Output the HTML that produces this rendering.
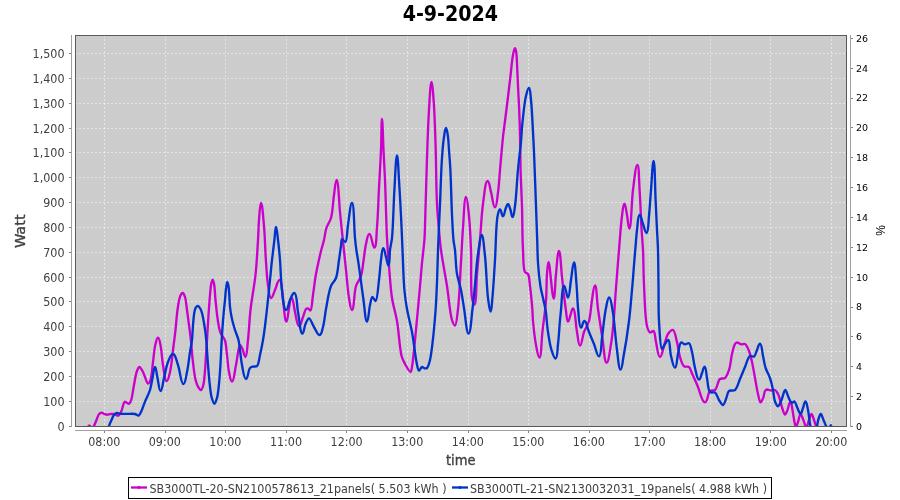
<!DOCTYPE html><html><head><meta charset="utf-8"><title>4-9-2024</title>
<style>html,body{margin:0;padding:0;background:#fff}svg{display:block;font-family:"DejaVu Sans Condensed","DejaVu Sans","Liberation Sans",sans-serif}</style></head><body>
<svg width="900" height="500" viewBox="0 0 900 500">
<rect width="900" height="500" fill="#fff"/>
<text x="450.4" y="21" text-anchor="middle" font-family="DejaVu Sans Condensed, DejaVu Sans, sans-serif" font-weight="bold" font-size="20.7" textLength="95.4" lengthAdjust="spacingAndGlyphs" fill="#000">4-9-2024</text>
<rect x="75" y="35" width="772" height="392" fill="#cccccc"/>
<path d="M104.5 35 V427 M165.5 35 V427 M225.5 35 V427 M286.5 35 V427 M346.5 35 V427 M407.5 35 V427 M468.5 35 V427 M528.5 35 V427 M589.5 35 V427 M649.5 35 V427 M710.5 35 V427 M770.5 35 V427 M831.5 35 V427 M75 426.5 H847 M75 401.5 H847 M75 376.5 H847 M75 351.5 H847 M75 326.5 H847 M75 301.5 H847 M75 277.5 H847 M75 252.5 H847 M75 227.5 H847 M75 202.5 H847 M75 177.5 H847 M75 152.5 H847 M75 128.5 H847 M75 103.5 H847 M75 78.5 H847 M75 53.5 H847" stroke="#fff" stroke-width="0.5" stroke-dasharray="2 2" fill="none" shape-rendering="auto"/>
<clipPath id="c"><rect x="75" y="35" width="772" height="392"/></clipPath>
<g clip-path="url(#c)" fill="none" stroke-width="2.35" stroke-linejoin="round" stroke-linecap="round">
<path d="M86.5 429.0C87.0 428.3 87.5 427.6 88.0 427.0C88.4 426.4 88.9 425.3 89.3 425.3C89.7 425.3 90.2 426.4 90.6 427.0C91.1 427.6 91.5 429.0 92.0 429.0C92.3 429.0 92.7 428.4 93.0 428.0C93.4 427.5 93.6 426.9 94.0 426.0C94.7 424.5 95.7 422.0 96.5 420.0C97.4 418.0 98.0 415.2 99.1 414.0C99.8 413.2 100.7 412.7 101.5 412.7C102.3 412.7 103.2 413.5 104.0 413.8C104.9 414.1 105.7 414.6 106.6 414.7C107.6 414.8 108.9 414.4 110.0 414.2C111.0 414.1 111.8 413.8 112.7 413.8C113.5 413.8 114.2 413.9 115.0 414.2C116.0 414.5 117.3 415.9 118.2 415.7C119.2 415.5 120.2 413.7 120.9 412.3C121.8 410.7 122.2 408.3 122.8 406.5C123.4 404.8 123.7 402.2 124.6 401.8C125.2 401.6 125.9 402.3 126.6 402.6C127.3 402.9 128.1 403.9 128.7 403.8C129.3 403.7 129.9 402.7 130.4 402.0C130.9 401.2 131.1 400.4 131.5 399.0C132.3 396.1 133.1 389.7 134.0 385.0C134.9 380.3 135.7 374.2 137.0 371.0C137.7 369.2 138.5 367.0 139.4 367.0C140.4 367.0 141.8 369.9 143.0 372.0C144.7 375.0 146.5 383.4 148.0 383.6C148.9 383.7 149.8 381.8 150.5 380.0C151.9 376.4 152.2 368.0 153.0 362.0C153.8 356.0 154.3 348.4 155.5 344.0C156.2 341.3 156.8 337.6 158.0 337.6C159.3 337.6 159.8 341.9 160.5 345.0C161.6 350.0 161.9 358.7 163.0 365.0C164.0 370.7 164.6 380.9 166.6 381.0C168.2 381.1 169.1 375.7 170.0 372.0C171.4 366.3 172.1 357.2 173.0 350.0C173.9 343.2 174.7 336.7 175.5 330.0C176.2 323.3 176.7 315.7 177.5 310.0C178.1 305.6 178.7 301.4 179.5 298.5C180.0 296.6 180.5 294.9 181.3 294.0C181.8 293.4 182.5 292.8 183.0 293.0C183.8 293.2 184.4 295.2 185.0 297.0C186.0 300.0 186.4 305.5 187.0 310.0C187.7 314.8 188.3 319.9 189.0 325.0C189.7 330.2 190.4 335.6 191.0 341.0C191.6 346.6 191.8 352.0 192.5 358.0C193.3 364.9 194.2 374.7 195.6 380.0C196.4 383.2 197.3 385.8 198.5 387.5C199.3 388.7 200.4 390.1 201.1 390.0C202.0 389.8 202.7 387.1 203.3 385.0C204.2 381.9 204.4 377.6 204.8 373.0C205.4 367.0 205.8 358.0 206.2 352.0C206.5 347.4 206.7 344.7 207.0 340.0C207.4 333.2 208.0 322.9 208.5 315.0C209.0 308.0 209.5 300.7 210.0 295.0C210.4 290.8 210.6 286.8 211.2 284.0C211.6 282.2 212.1 279.6 212.6 279.6C213.1 279.6 213.6 281.7 214.0 283.5C214.8 287.1 214.9 294.4 215.5 300.0C216.1 305.9 216.7 312.7 217.5 318.0C218.1 322.3 218.8 326.6 219.5 329.5C220.0 331.4 220.4 332.7 221.0 334.0C221.6 335.1 222.4 335.9 223.0 337.0C223.7 338.1 224.5 338.9 225.0 340.5C226.0 343.3 226.2 348.3 226.8 353.0C227.6 358.9 228.0 367.8 229.2 373.0C230.0 376.5 230.6 381.7 232.0 381.6C234.0 381.5 234.7 370.8 236.0 365.0C237.4 358.7 238.4 345.3 240.0 345.0C240.8 344.9 241.7 347.4 242.5 349.0C243.6 351.2 244.2 357.1 245.4 357.0C247.1 356.8 247.2 346.5 248.0 340.0C249.0 331.2 249.4 319.6 250.6 309.0C251.9 297.7 254.4 285.6 255.6 274.0C256.8 262.6 257.4 249.8 258.0 240.0C258.5 232.5 258.5 226.4 259.0 220.0C259.5 214.1 259.9 203.0 261.0 203.0C262.3 203.0 263.2 217.5 264.0 226.0C265.0 236.6 265.2 251.3 266.0 262.0C266.6 270.5 267.0 278.5 268.0 285.0C268.8 290.0 269.0 297.8 271.0 298.0C272.7 298.2 273.6 292.8 275.0 290.0C276.5 286.9 277.7 279.8 279.6 280.0C282.1 280.3 281.9 293.2 283.0 300.0C284.2 307.1 284.7 321.6 286.4 321.6C287.7 321.6 288.1 312.2 289.0 308.0C289.8 304.3 290.2 297.6 291.6 297.6C293.2 297.6 293.8 307.2 295.0 312.0C296.2 316.7 296.8 325.8 299.0 326.0C300.8 326.1 301.8 319.9 303.0 317.0C304.1 314.3 304.8 310.1 306.0 309.0C306.6 308.5 307.3 308.3 308.0 308.5C308.8 308.7 309.7 310.7 310.4 310.5C311.9 309.9 312.1 300.6 313.0 295.0C314.0 288.5 314.7 281.1 316.0 274.0C317.4 266.5 319.5 257.3 321.0 251.0C322.1 246.6 323.1 243.8 324.0 240.0C324.9 236.1 325.2 231.8 326.4 228.0C327.6 224.4 329.8 222.1 331.0 218.0C332.7 212.0 333.0 201.8 334.0 195.0C334.8 189.5 335.4 180.0 336.6 180.0C338.4 180.1 339.1 203.2 340.0 212.0C340.6 218.2 340.9 221.4 341.6 228.0C342.7 238.7 344.7 257.4 346.0 270.0C347.1 280.3 347.7 290.7 349.0 298.0C349.9 302.9 350.5 310.1 352.0 310.0C354.1 309.9 354.0 292.2 356.0 286.0C357.4 281.8 359.8 279.8 361.0 276.0C362.5 271.4 362.8 265.3 363.6 260.0C364.4 254.7 364.9 248.7 366.0 244.0C366.9 240.2 367.5 234.0 369.4 234.0C371.6 234.0 372.5 247.8 374.4 247.6C376.6 247.3 376.3 235.0 377.0 227.0C378.0 216.1 378.3 200.9 379.0 188.0C379.7 175.3 380.5 162.0 381.0 150.0C381.5 139.1 381.4 119.0 382.0 119.0C382.6 119.0 383.0 139.8 383.5 150.0C384.0 160.1 384.5 168.4 385.0 180.0C385.7 196.2 386.2 222.2 387.0 238.0C387.6 249.0 388.2 256.4 389.0 266.0C389.9 276.3 390.5 288.3 392.0 298.0C393.3 306.3 395.5 312.5 397.0 321.0C398.8 331.4 399.6 348.5 401.6 356.0C402.6 359.7 403.6 361.4 405.0 364.0C406.5 366.7 409.4 372.2 410.6 372.0C411.4 371.9 411.5 369.5 412.0 367.0C413.4 359.4 415.5 334.6 416.8 321.0C417.9 310.2 418.6 301.7 419.5 292.0C420.4 282.3 421.1 272.1 422.0 263.0C422.8 254.9 423.9 246.7 424.4 240.0C424.8 234.8 424.8 232.4 425.0 226.0C425.5 211.9 426.3 178.7 427.0 158.0C427.6 140.6 428.1 123.8 429.0 110.0C429.7 99.4 430.3 82.0 431.6 82.0C432.6 82.0 433.0 92.6 433.6 100.0C434.5 111.8 435.1 129.8 435.6 146.0C436.2 164.2 436.2 188.5 437.0 204.0C437.5 214.4 438.3 221.9 439.0 230.0C439.6 237.1 440.0 242.4 441.0 250.0C442.4 260.3 445.1 274.2 447.0 286.0C448.8 297.5 449.9 313.6 452.0 320.0C452.9 322.8 454.1 325.7 455.0 325.6C456.4 325.4 457.2 316.0 458.0 309.0C459.4 297.4 460.1 276.4 461.0 262.0C461.8 249.8 462.1 239.1 463.0 228.0C463.8 217.4 464.3 197.1 466.0 197.0C467.4 197.0 468.2 208.7 469.0 216.0C470.0 225.7 470.5 237.7 471.0 250.0C471.6 264.6 470.4 289.5 472.0 298.0C472.6 301.2 473.4 304.6 474.4 304.5C476.5 304.2 476.1 284.4 477.0 274.0C478.0 263.0 479.0 251.5 480.0 240.0C481.0 228.2 481.5 214.6 483.0 204.0C484.2 195.4 485.2 181.1 487.6 181.0C489.3 180.9 489.9 188.0 491.0 192.0C492.3 196.7 493.2 207.3 495.0 207.3C496.7 207.3 497.2 198.0 498.0 192.5C499.0 185.8 499.3 178.2 500.0 170.0C500.9 160.0 502.0 146.6 503.0 137.0C503.8 129.5 504.7 123.7 505.5 117.0C506.3 110.3 507.2 103.7 508.0 97.0C508.8 90.1 509.7 82.7 510.5 76.0C511.2 69.8 511.8 62.7 512.5 58.0C513.0 54.9 513.4 52.0 514.0 50.3C514.3 49.3 514.8 48.2 515.1 48.2C515.5 48.2 515.9 50.3 516.2 52.0C516.8 55.5 516.9 62.4 517.2 68.0C517.5 74.3 517.8 81.2 518.1 88.0C518.4 95.2 518.9 102.4 519.2 110.0C519.5 118.1 519.8 126.0 520.0 135.0C520.3 145.7 520.3 158.2 520.6 170.0C520.9 182.2 521.6 194.2 522.0 207.0C522.4 220.8 522.3 238.1 523.0 250.0C523.5 258.6 523.0 268.7 525.0 272.0C525.8 273.3 527.2 272.8 528.0 274.0C529.4 276.2 529.4 281.3 530.0 286.0C530.9 292.6 531.9 303.5 532.4 310.0C532.7 314.4 532.6 316.6 533.0 321.0C533.6 327.5 534.7 338.3 536.0 345.0C537.0 349.9 538.0 357.7 539.4 357.6C541.4 357.5 541.4 340.9 542.4 332.0C543.5 322.2 545.2 311.0 546.0 301.0C546.7 291.7 546.4 281.2 547.0 274.0C547.4 269.2 547.7 262.0 548.6 262.0C549.7 262.0 550.2 274.0 551.0 280.0C551.8 286.1 552.4 298.5 553.6 298.5C555.0 298.5 555.1 282.0 556.0 274.0C556.9 266.2 557.5 251.0 559.0 251.0C560.5 251.0 561.1 269.1 562.0 277.0C562.7 283.5 563.3 289.2 564.0 295.0C564.6 300.5 565.3 306.2 566.0 311.0C566.6 314.9 566.7 321.5 568.0 321.6C569.1 321.7 569.7 317.2 570.5 315.0C571.3 312.8 571.8 308.4 573.0 308.5C575.2 308.7 575.7 325.2 577.0 332.0C578.0 337.2 578.3 345.5 580.0 345.6C581.8 345.7 582.4 336.2 584.0 332.0C585.5 328.1 587.7 325.4 589.0 321.0C590.7 315.2 590.9 306.4 592.0 300.0C592.9 294.6 593.6 285.2 595.0 285.3C596.7 285.4 596.8 300.7 598.0 309.0C599.3 318.2 600.9 328.7 602.4 338.0C603.8 346.5 604.3 362.5 606.6 362.6C608.6 362.7 609.9 350.6 611.0 344.0C612.3 336.8 612.8 329.4 613.6 321.0C614.5 311.0 615.1 299.4 616.0 288.0C616.9 275.8 618.0 262.3 619.0 250.0C620.0 238.3 620.8 224.5 622.0 216.0C622.7 210.8 623.1 203.6 624.4 203.6C625.6 203.6 626.2 211.0 627.0 215.0C627.9 219.3 628.2 228.6 629.4 228.6C631.3 228.5 631.5 201.4 633.0 190.0C634.2 180.7 635.7 164.9 637.4 165.0C639.0 165.1 639.0 180.7 639.6 190.0C640.4 201.8 640.9 219.0 641.6 230.0C642.1 237.8 642.6 242.4 643.0 250.0C643.5 260.0 643.4 272.9 644.0 285.0C644.7 298.1 645.0 318.4 647.0 326.0C647.8 329.2 648.6 331.9 650.0 332.4C651.0 332.8 652.7 330.5 653.6 331.0C655.2 331.9 655.0 338.1 656.0 342.0C657.1 346.6 657.8 356.9 660.0 357.0C661.9 357.1 662.7 349.8 664.0 346.0C665.4 342.1 666.1 336.8 668.0 334.0C669.4 332.0 671.6 329.6 673.0 330.0C674.9 330.6 675.9 337.7 677.0 342.0C678.2 346.7 678.6 352.7 680.0 357.0C681.1 360.5 682.1 364.8 684.0 366.3C685.4 367.3 687.7 366.0 689.0 367.0C690.5 368.1 691.0 371.3 692.0 373.5C693.0 375.7 694.0 377.8 695.0 380.0C696.0 382.3 696.8 384.2 698.0 387.0C699.8 391.1 701.8 402.4 705.0 402.4C707.7 402.4 707.8 392.8 710.0 391.0C711.4 389.8 713.6 391.1 715.0 390.0C717.2 388.2 717.8 380.8 720.0 379.0C721.4 377.9 723.6 379.1 725.0 378.0C726.8 376.6 727.9 373.2 729.0 370.0C730.5 365.7 730.9 358.7 732.0 354.0C732.9 350.2 733.8 345.8 735.0 344.0C735.6 343.1 736.2 342.5 737.0 342.4C738.1 342.3 739.6 344.1 741.0 344.4C742.3 344.6 743.8 343.4 745.0 344.0C746.7 344.9 747.9 348.3 749.0 351.0C750.3 354.2 751.1 358.0 752.0 362.0C753.1 366.8 754.0 372.7 755.0 378.0C756.0 383.3 756.9 389.5 758.0 394.0C758.8 397.3 759.6 402.3 760.6 402.4C761.5 402.5 762.8 398.9 763.5 397.0C764.2 395.1 764.2 392.3 765.0 391.0C765.5 390.2 766.2 389.7 767.0 389.5C768.1 389.3 769.7 390.4 771.0 390.5C772.3 390.6 773.9 389.5 775.0 390.0C776.3 390.5 777.1 392.4 778.0 394.0C779.1 396.0 779.7 399.0 780.5 401.5C781.2 404.0 781.7 406.7 782.5 409.0C783.2 411.0 784.1 414.5 785.0 414.5C785.8 414.5 786.7 411.7 787.5 410.0C788.5 407.7 789.2 401.9 790.5 402.0C791.7 402.1 791.9 407.1 792.5 410.0C793.2 413.6 793.8 418.9 794.5 422.0C795.0 424.0 795.4 427.0 796.0 427.0C796.6 427.0 797.3 423.9 798.0 422.0C798.8 419.7 799.6 414.1 800.5 414.0C801.3 413.9 802.2 417.2 803.0 419.0C803.9 421.0 804.6 424.1 805.3 425.5C805.7 426.2 806.0 427.0 806.3 427.0C806.7 427.0 807.1 425.8 807.5 425.0C808.1 423.7 808.4 421.7 809.0 420.0C809.7 418.1 810.7 414.0 811.5 414.0C812.3 414.0 813.2 418.0 814.0 420.0C814.7 422.0 815.4 424.3 816.0 426.0C816.4 427.2 816.7 428.0 817.0 429.0" stroke="#cc00cc"/>
<path d="M108.0 429.0C108.3 428.0 108.6 427.2 109.0 426.0C109.6 424.3 110.6 421.9 111.5 420.0C112.3 418.2 113.0 415.9 114.1 414.7C114.9 413.8 115.8 413.2 116.8 413.0C117.8 412.8 118.8 413.7 120.0 413.8C121.5 414.0 123.3 413.8 125.0 413.8C126.7 413.8 128.3 413.8 130.0 413.8C131.7 413.8 133.5 413.7 135.0 414.0C136.3 414.3 137.6 415.8 138.6 415.5C139.6 415.2 140.2 413.5 141.0 412.0C142.3 409.5 143.6 405.1 145.0 401.6C146.5 397.8 148.7 394.0 150.0 390.0C151.2 386.1 151.6 381.9 152.5 378.0C153.3 374.2 153.8 367.0 155.0 367.0C156.2 367.0 156.6 374.2 157.5 378.0C158.5 382.2 159.0 391.0 160.6 391.0C162.2 391.0 162.8 382.6 164.0 378.0C165.3 372.9 166.2 366.3 168.0 362.0C169.4 358.7 170.6 353.8 173.0 354.0C175.7 354.2 176.4 360.8 178.0 365.0C180.0 370.4 180.9 384.0 183.4 384.0C185.4 384.0 186.0 376.5 187.0 372.0C188.3 366.2 189.1 357.8 190.0 352.0C190.7 347.5 191.5 344.2 192.0 340.0C192.5 335.3 192.6 329.9 193.0 325.0C193.4 320.4 193.8 314.7 194.5 311.5C194.9 309.7 195.3 308.2 196.0 307.3C196.5 306.6 197.3 305.9 198.0 306.0C198.8 306.1 199.8 307.7 200.5 309.0C201.4 310.6 201.9 312.8 202.5 315.0C203.1 317.5 203.5 320.2 204.0 323.0C204.5 326.1 205.1 329.7 205.5 333.0C205.9 336.3 206.2 339.1 206.5 343.0C206.9 348.3 207.3 355.4 207.8 362.0C208.4 369.3 209.0 378.4 209.8 385.0C210.4 390.0 210.8 394.6 211.8 398.0C212.5 400.4 213.5 403.8 214.4 403.8C215.3 403.8 216.3 400.3 217.0 398.0C217.9 394.8 218.3 390.5 218.8 386.0C219.4 380.4 219.9 373.8 220.3 367.0C220.8 359.2 221.1 350.5 221.6 342.0C222.1 333.2 222.8 322.7 223.5 315.0C224.0 309.3 224.5 304.7 225.0 300.0C225.4 295.8 225.6 291.3 226.1 288.0C226.4 285.6 226.8 282.0 227.2 282.0C227.5 282.0 228.0 283.8 228.3 285.0C228.7 286.8 228.9 289.2 229.1 292.0C229.5 296.1 229.5 302.3 230.0 307.0C230.5 311.2 231.1 315.1 232.0 319.0C232.8 322.8 233.9 326.4 235.0 330.0C236.1 333.4 237.5 335.9 238.5 340.0C240.1 346.4 240.5 357.9 242.0 365.0C243.1 370.4 243.9 378.9 246.0 379.0C247.9 379.1 248.3 369.8 250.0 368.0C250.9 367.0 251.9 366.9 253.0 366.6C254.2 366.2 255.9 366.9 257.0 366.0C258.8 364.4 259.1 359.0 260.0 355.0C261.1 350.4 262.1 345.3 263.0 340.0C264.0 334.1 264.7 328.8 265.6 321.0C267.1 308.8 269.5 285.1 270.6 274.0C271.2 268.0 271.4 265.1 272.0 260.0C272.7 253.9 273.7 246.0 274.4 240.0C275.0 235.2 275.1 227.0 276.0 227.0C276.9 227.0 277.4 235.2 278.0 240.0C278.8 245.9 279.4 252.7 280.0 260.0C280.7 269.0 280.8 281.0 282.0 290.0C283.0 297.4 283.6 309.8 286.0 310.0C287.8 310.2 288.5 303.0 290.0 300.0C291.3 297.4 292.6 292.7 294.4 293.0C297.1 293.5 296.7 305.5 298.0 312.0C299.4 319.0 300.1 333.5 302.4 333.6C303.9 333.7 304.2 326.7 305.5 324.0C306.5 321.8 307.7 318.4 309.0 318.4C310.5 318.4 312.2 324.2 314.0 327.0C315.8 329.8 317.3 335.2 319.6 335.0C321.8 334.8 322.0 330.3 323.0 327.0C324.4 322.3 324.8 315.4 326.0 309.0C327.4 301.8 328.7 291.6 331.0 286.0C332.4 282.5 334.7 281.4 336.0 278.0C337.8 273.3 338.1 265.6 339.0 260.0C339.8 255.0 340.4 249.9 341.0 246.0C341.4 243.3 341.1 239.3 342.0 239.0C342.7 238.7 344.5 242.3 345.4 242.0C347.2 241.4 347.0 231.0 348.0 225.0C349.1 218.1 350.4 202.9 352.0 203.0C354.1 203.1 354.1 229.2 355.0 238.0C355.5 243.4 355.9 247.1 356.5 251.0C357.0 254.3 357.5 256.7 358.0 260.0C358.6 264.1 359.3 268.6 360.0 274.0C361.0 281.3 362.3 291.7 363.5 300.0C364.6 307.5 365.3 321.6 367.0 321.6C368.5 321.6 368.9 309.5 370.0 305.0C370.8 301.8 371.3 297.2 372.4 297.0C373.3 296.8 374.7 301.2 375.6 301.0C377.4 300.5 378.1 286.9 379.0 280.0C379.9 273.3 380.2 265.8 381.0 260.0C381.7 255.5 381.9 248.3 383.3 248.2C384.5 248.1 385.1 254.1 386.0 257.0C386.9 259.9 387.6 265.7 388.6 265.6C389.9 265.5 389.4 254.8 390.0 250.0C390.5 245.7 391.4 243.4 392.0 238.0C393.1 227.4 393.5 204.7 394.4 190.0C395.2 177.5 395.8 155.5 397.0 155.5C398.0 155.5 398.4 171.0 399.0 180.0C399.7 190.8 400.4 204.2 401.0 216.0C401.6 227.5 402.0 238.2 402.5 250.0C403.1 262.8 403.4 279.1 404.4 290.0C405.1 297.5 405.8 302.4 407.0 309.0C408.3 316.3 410.7 325.0 412.0 332.0C413.1 337.8 413.6 342.8 414.4 348.0C415.1 352.8 415.6 357.9 416.5 362.0C417.2 365.2 417.8 370.4 419.0 370.6C419.8 370.8 421.0 367.2 422.0 367.0C422.8 366.8 423.6 368.1 424.5 368.3C425.3 368.4 426.3 368.6 427.0 368.0C428.3 366.9 429.2 363.2 430.0 360.0C431.1 355.6 431.6 350.3 432.4 344.0C433.5 334.8 434.8 320.8 435.6 310.0C436.3 300.2 436.6 291.6 437.0 282.0C437.4 271.7 437.6 261.6 438.0 250.0C438.5 236.1 439.3 219.3 440.0 204.0C440.7 188.7 441.1 170.4 442.0 158.0C442.6 149.6 443.1 142.5 444.0 137.0C444.6 133.4 445.0 128.0 446.0 128.0C447.0 128.0 447.5 133.7 448.0 137.0C448.6 140.9 448.6 145.2 449.0 150.0C449.4 156.0 450.0 162.0 450.4 170.0C451.0 182.0 451.4 202.2 452.0 215.0C452.5 224.6 452.8 233.6 453.5 240.0C453.9 244.1 454.5 245.9 455.0 250.0C455.7 256.3 455.8 266.9 457.0 274.0C458.0 279.9 459.9 284.5 461.0 290.0C462.2 295.8 462.9 301.5 464.0 308.0C465.3 315.8 466.5 333.6 468.6 333.6C470.7 333.6 471.4 317.2 472.5 309.0C473.6 301.0 474.2 292.9 475.0 285.0C475.7 277.3 476.2 268.8 477.0 262.0C477.6 256.5 478.2 251.7 479.0 247.0C479.7 242.8 480.3 235.0 481.6 235.0C483.3 235.0 484.0 247.8 485.0 256.0C486.3 267.6 486.7 287.9 488.0 298.0C488.8 303.8 489.5 311.6 490.6 311.6C491.7 311.6 491.8 303.7 492.4 298.0C493.3 288.5 494.2 273.1 495.0 260.0C495.9 245.9 495.9 224.1 497.6 216.0C498.3 212.8 498.7 209.5 500.0 209.5C501.4 209.5 501.6 216.3 503.0 216.2C504.4 216.1 504.6 211.2 505.5 209.0C506.3 207.2 507.2 204.0 508.0 204.0C508.9 204.0 509.8 207.9 510.5 210.0C511.3 212.2 511.6 217.0 512.6 217.0C513.9 217.0 514.3 210.8 515.0 206.0C516.3 197.4 516.9 180.8 518.0 169.5C518.9 159.7 520.2 150.3 521.0 142.0C521.6 135.1 521.7 129.9 522.4 123.0C523.3 114.8 524.4 102.3 526.0 96.0C526.9 92.5 527.8 87.9 529.0 88.0C530.4 88.1 530.4 95.0 531.0 100.0C531.9 108.1 532.5 122.6 533.0 132.0C533.4 139.4 533.6 143.7 534.0 152.0C534.6 165.6 535.4 190.1 536.0 206.0C536.5 218.6 536.8 229.8 537.2 240.0C537.5 248.4 537.5 255.3 538.0 263.0C538.5 270.7 539.4 279.6 540.4 286.0C541.1 290.7 542.1 294.0 543.0 298.0C543.9 302.0 544.8 305.4 545.6 310.0C546.6 316.2 546.9 325.1 548.0 332.0C549.0 338.3 549.9 345.2 551.5 350.0C552.6 353.4 554.0 358.7 555.6 358.5C557.6 358.2 557.3 349.5 558.0 344.0C558.9 337.0 559.4 326.3 560.0 320.0C560.4 315.9 560.6 314.0 561.0 310.0C561.6 304.1 561.9 291.5 563.0 288.0C563.4 286.8 563.8 285.8 564.2 285.8C564.8 285.8 565.4 289.2 566.0 291.0C566.7 293.1 567.0 297.7 568.0 297.6C569.6 297.5 570.0 285.9 571.0 280.0C572.0 274.1 572.7 262.4 574.0 262.4C575.4 262.4 575.7 275.7 576.4 283.0C577.2 291.4 577.3 302.0 578.2 310.0C578.9 316.5 578.9 327.3 581.0 327.6C582.4 327.8 582.6 320.9 584.4 321.0C586.6 321.1 587.4 328.3 589.0 332.0C590.6 335.9 592.3 340.0 594.0 344.0C595.7 348.1 597.1 356.6 599.0 356.4C601.3 356.1 601.2 344.0 602.0 338.0C602.8 332.2 603.3 326.3 604.0 321.0C604.6 316.4 605.1 312.1 606.0 308.0C606.8 304.3 607.6 297.5 609.2 297.5C611.1 297.6 612.2 308.7 613.0 313.0C613.6 316.1 613.6 317.5 614.0 321.0C614.8 327.7 615.8 341.3 617.0 350.0C618.0 357.2 618.8 369.6 620.6 369.6C622.1 369.6 622.6 361.6 623.6 356.0C625.3 347.1 627.6 332.3 629.0 321.0C630.3 310.4 631.1 299.8 632.0 290.0C632.8 281.2 633.4 272.7 634.0 265.0C634.5 258.5 635.0 252.9 635.5 247.0C636.0 241.3 636.3 235.5 637.0 230.0C637.7 224.8 637.8 215.2 639.6 215.0C641.0 214.9 641.8 221.0 643.0 224.0C644.2 227.0 645.2 233.2 646.6 233.0C648.5 232.8 648.3 222.3 649.0 216.0C649.8 208.3 650.3 198.9 651.0 190.0C651.8 180.6 652.5 161.0 653.6 161.0C654.9 161.0 655.0 187.9 655.6 200.0C656.1 210.7 656.6 221.0 657.0 230.0C657.4 237.3 657.8 242.4 658.0 250.0C658.3 260.0 658.3 273.3 658.5 285.0C658.7 296.9 658.3 309.8 659.0 321.0C659.6 330.9 660.2 348.6 662.0 349.0C662.8 349.2 663.9 345.5 665.0 344.0C666.0 342.5 667.5 339.7 668.4 340.0C670.0 340.4 669.8 351.1 671.0 356.0C672.1 360.2 673.3 367.7 675.0 367.6C676.8 367.5 677.0 358.3 678.0 354.0C679.0 350.0 679.3 343.3 681.0 342.5C682.1 342.0 683.6 344.3 685.0 344.4C686.3 344.5 687.9 342.7 689.0 343.3C690.6 344.1 691.1 348.6 692.0 352.0C693.2 356.5 693.7 363.1 695.0 368.0C696.1 372.2 697.0 379.5 699.0 379.6C700.5 379.7 701.1 375.2 702.0 373.0C702.9 370.9 703.5 366.5 704.6 366.6C706.1 366.7 706.2 374.0 707.0 378.0C707.9 382.4 707.9 390.1 710.0 392.0C711.3 393.2 713.6 391.7 715.0 392.6C716.8 393.8 717.6 397.8 719.0 400.0C720.3 401.9 721.8 405.1 723.0 405.0C724.2 404.9 725.1 401.2 726.0 399.0C727.1 396.6 727.3 392.4 729.0 391.0C730.5 389.8 733.3 391.3 735.0 390.0C737.3 388.2 738.4 382.8 740.0 379.0C741.7 375.1 743.3 370.9 745.0 367.0C746.6 363.2 747.9 357.1 750.0 356.0C751.2 355.3 752.9 357.2 754.0 356.6C755.4 355.8 756.0 352.2 757.0 350.0C758.0 347.8 758.7 343.5 760.0 343.6C761.8 343.8 762.1 351.9 763.0 356.0C763.9 360.0 764.4 364.2 765.6 368.0C766.8 371.5 768.8 374.5 770.0 378.0C771.3 381.8 772.2 386.0 773.0 390.0C773.8 393.9 773.9 398.6 775.0 401.5C775.8 403.5 777.0 406.3 778.0 406.3C779.1 406.3 780.4 402.4 781.5 400.0C782.8 397.1 784.0 390.0 785.2 390.0C786.2 390.0 787.1 394.0 788.0 396.0C788.9 397.9 789.6 400.4 790.5 401.5C791.0 402.2 791.4 402.7 792.0 402.8C792.7 402.9 793.8 401.2 794.5 401.5C795.6 401.9 796.1 405.1 797.0 407.0C798.1 409.2 799.5 414.0 800.5 414.0C801.4 414.0 802.2 410.0 803.0 408.0C803.8 405.9 804.3 401.5 805.5 401.5C806.8 401.6 807.3 406.8 808.0 410.0C808.9 414.1 809.4 420.8 810.0 424.0C810.3 425.7 810.4 427.0 811.0 428.0C811.5 428.9 812.3 429.7 813.0 430.0C813.6 430.3 814.4 430.3 815.0 430.0C815.7 429.6 816.2 428.3 816.7 427.0C817.5 425.0 817.7 421.3 818.5 419.0C819.1 417.1 820.0 414.0 820.8 414.0C821.7 414.0 822.6 418.0 823.5 420.0C824.4 422.0 825.3 424.5 826.0 426.0C826.4 426.9 826.4 427.7 827.0 428.0C827.6 428.4 828.9 428.4 829.5 428.0C830.2 427.6 830.4 425.2 830.8 425.2C831.2 425.2 831.6 427.1 832.0 428.0" stroke="#0033cc"/>
</g>
<rect x="75.5" y="35.5" width="771" height="391" fill="none" stroke="#595959" stroke-width="1"/>
<path d="M71.5 35V427 M75 430.5H847 M850.5 35V427" stroke="#a0a0a0" stroke-width="1" fill="none"/>
<path d="M69 426.5H71 M69 401.5H71 M69 376.5H71 M69 351.5H71 M69 326.5H71 M69 301.5H71 M69 277.5H71 M69 252.5H71 M69 227.5H71 M69 202.5H71 M69 177.5H71 M69 152.5H71 M69 128.5H71 M69 103.5H71 M69 78.5H71 M69 53.5H71 M104.5 431V433 M165.5 431V433 M225.5 431V433 M286.5 431V433 M346.5 431V433 M407.5 431V433 M468.5 431V433 M528.5 431V433 M589.5 431V433 M649.5 431V433 M710.5 431V433 M770.5 431V433 M831.5 431V433" stroke="#808080" stroke-width="1" fill="none"/>
<path d="M851 426.5H853 M851 396.5H853 M851 366.5H853 M851 336.5H853 M851 307.5H853 M851 277.5H853 M851 247.5H853 M851 217.5H853 M851 187.5H853 M851 157.5H853 M851 127.5H853 M851 98.5H853 M851 68.5H853 M851 38.5H853" stroke="#808080" stroke-width="1" fill="none"/>
<g font-size="12.4" fill="#404040" text-anchor="end">
<text x="64.5" y="430.8" textLength="7.1" lengthAdjust="spacingAndGlyphs">0</text>
<text x="64.5" y="405.8" textLength="21.3" lengthAdjust="spacingAndGlyphs">100</text>
<text x="64.5" y="380.8" textLength="21.3" lengthAdjust="spacingAndGlyphs">200</text>
<text x="64.5" y="355.8" textLength="21.3" lengthAdjust="spacingAndGlyphs">300</text>
<text x="64.5" y="330.8" textLength="21.3" lengthAdjust="spacingAndGlyphs">400</text>
<text x="64.5" y="305.8" textLength="21.3" lengthAdjust="spacingAndGlyphs">500</text>
<text x="64.5" y="281.8" textLength="21.3" lengthAdjust="spacingAndGlyphs">600</text>
<text x="64.5" y="256.8" textLength="21.3" lengthAdjust="spacingAndGlyphs">700</text>
<text x="64.5" y="231.8" textLength="21.3" lengthAdjust="spacingAndGlyphs">800</text>
<text x="64.5" y="206.8" textLength="21.3" lengthAdjust="spacingAndGlyphs">900</text>
<text x="64.5" y="181.8" textLength="31.9" lengthAdjust="spacingAndGlyphs">1,000</text>
<text x="64.5" y="156.8" textLength="31.9" lengthAdjust="spacingAndGlyphs">1,100</text>
<text x="64.5" y="132.8" textLength="31.9" lengthAdjust="spacingAndGlyphs">1,200</text>
<text x="64.5" y="107.8" textLength="31.9" lengthAdjust="spacingAndGlyphs">1,300</text>
<text x="64.5" y="82.8" textLength="31.9" lengthAdjust="spacingAndGlyphs">1,400</text>
<text x="64.5" y="57.8" textLength="31.9" lengthAdjust="spacingAndGlyphs">1,500</text>
</g>
<g font-size="12.4" fill="#404040" text-anchor="middle">
<text x="104.3" y="446.3" textLength="32.1" lengthAdjust="spacingAndGlyphs">08:00</text>
<text x="164.8" y="446.3" textLength="32.1" lengthAdjust="spacingAndGlyphs">09:00</text>
<text x="225.4" y="446.3" textLength="32.1" lengthAdjust="spacingAndGlyphs">10:00</text>
<text x="286.0" y="446.3" textLength="32.1" lengthAdjust="spacingAndGlyphs">11:00</text>
<text x="346.6" y="446.3" textLength="32.1" lengthAdjust="spacingAndGlyphs">12:00</text>
<text x="407.2" y="446.3" textLength="32.1" lengthAdjust="spacingAndGlyphs">13:00</text>
<text x="467.8" y="446.3" textLength="32.1" lengthAdjust="spacingAndGlyphs">14:00</text>
<text x="528.3" y="446.3" textLength="32.1" lengthAdjust="spacingAndGlyphs">15:00</text>
<text x="588.9" y="446.3" textLength="32.1" lengthAdjust="spacingAndGlyphs">16:00</text>
<text x="649.5" y="446.3" textLength="32.1" lengthAdjust="spacingAndGlyphs">17:00</text>
<text x="710.1" y="446.3" textLength="32.1" lengthAdjust="spacingAndGlyphs">18:00</text>
<text x="770.7" y="446.3" textLength="32.1" lengthAdjust="spacingAndGlyphs">19:00</text>
<text x="831.2" y="446.3" textLength="32.1" lengthAdjust="spacingAndGlyphs">20:00</text>
</g>
<g font-family="DejaVu Sans, sans-serif" font-size="9.2" fill="#000" lengthAdjust="spacingAndGlyphs">
<text x="856" y="429.8" textLength="6.0" lengthAdjust="spacingAndGlyphs">0</text>
<text x="856" y="399.9" textLength="6.0" lengthAdjust="spacingAndGlyphs">2</text>
<text x="856" y="370.1" textLength="6.0" lengthAdjust="spacingAndGlyphs">4</text>
<text x="856" y="340.2" textLength="6.0" lengthAdjust="spacingAndGlyphs">6</text>
<text x="856" y="310.4" textLength="6.0" lengthAdjust="spacingAndGlyphs">8</text>
<text x="856" y="280.5" textLength="12.1" lengthAdjust="spacingAndGlyphs">10</text>
<text x="856" y="250.6" textLength="12.1" lengthAdjust="spacingAndGlyphs">12</text>
<text x="856" y="220.8" textLength="12.1" lengthAdjust="spacingAndGlyphs">14</text>
<text x="856" y="190.9" textLength="12.1" lengthAdjust="spacingAndGlyphs">16</text>
<text x="856" y="161.1" textLength="12.1" lengthAdjust="spacingAndGlyphs">18</text>
<text x="856" y="131.2" textLength="12.1" lengthAdjust="spacingAndGlyphs">20</text>
<text x="856" y="101.3" textLength="12.1" lengthAdjust="spacingAndGlyphs">22</text>
<text x="856" y="71.5" textLength="12.1" lengthAdjust="spacingAndGlyphs">24</text>
<text x="856" y="41.6" textLength="12.1" lengthAdjust="spacingAndGlyphs">26</text>
</g>
<text transform="translate(24.9,231.2) rotate(-90)" text-anchor="middle" font-size="14" stroke="#404040" stroke-width="0.35" textLength="33.6" lengthAdjust="spacingAndGlyphs" fill="#404040">Watt</text>
<text x="460.7" y="464.8" text-anchor="middle" font-size="14.5" textLength="29.5" lengthAdjust="spacingAndGlyphs" fill="#404040" stroke="#404040" stroke-width="0.35">time</text>
<text transform="translate(885,230.5) rotate(-90)" text-anchor="middle" font-family="Liberation Sans, sans-serif" font-size="12" fill="#000">%</text>
<rect x="128.5" y="477.5" width="643" height="21" fill="#fff" stroke="#000" stroke-width="1"/>
<path d="M131 487.5H147" stroke="#cc00cc" stroke-width="2.3"/><circle cx="139" cy="487.5" r="1.45" fill="#cc00cc"/>
<path d="M452 487.5H468" stroke="#0033cc" stroke-width="2.3"/><circle cx="460" cy="487.5" r="1.45" fill="#0033cc"/>
<text x="149.5" y="492.7" font-size="12" fill="#404040" textLength="297" lengthAdjust="spacingAndGlyphs">SB3000TL-20-SN2100578613_21panels( 5.503 kWh )</text>
<text x="470" y="492.7" font-size="12" fill="#404040" textLength="297" lengthAdjust="spacingAndGlyphs">SB3000TL-21-SN2130032031_19panels( 4.988 kWh )</text>
</svg></body></html>
